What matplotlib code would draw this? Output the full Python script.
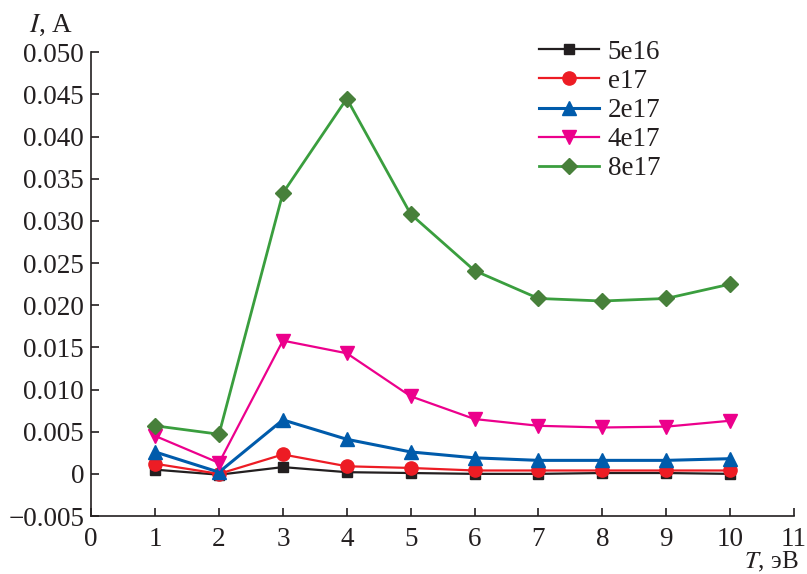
import matplotlib
matplotlib.use("Agg")
import matplotlib.pyplot as plt
from matplotlib.ticker import FuncFormatter

plt.rcParams['font.family'] = ['Liberation Serif', 'DejaVu Serif']
plt.rcParams['mathtext.fontset'] = 'stix'

# Data
T = [1, 2, 3, 4, 5, 6, 7, 8, 9, 10]
labels = ["5e16", "e17", "2e17", "4e17", "8e17"]
i_5e16 = [0.0005, -0.0001, 0.0008, 0.0002, 0.0001, 0.0000, 0.0000, 0.0001, 0.0001, 0.0000]
i_e17 = [0.0012, 0.0000, 0.0023, 0.0009, 0.0007, 0.0004, 0.0004, 0.0004, 0.0004, 0.0004]
i_2e17 = [0.0026, 0.0002, 0.0064, 0.0041, 0.0026, 0.0019, 0.0016, 0.0016, 0.0016, 0.0018]
i_4e17 = [0.0045, 0.0013, 0.0158, 0.0143, 0.0092, 0.0065, 0.0057, 0.0055, 0.0056, 0.0063]
i_8e17 = [0.0057, 0.0047, 0.0333, 0.0445, 0.0308, 0.0241, 0.0208, 0.0205, 0.0208, 0.0225]
series = [i_5e16, i_e17, i_2e17, i_4e17, i_8e17]

# Styles
line_colors = ['#231f20', '#ed1c24', '#005bab', '#ec008c', '#3a9e3e']
face_colors = ['#231f20', '#ed1c24', '#005bab', '#ec008c', '#47803a']
markers = ['s', 'o', '^', 'v', 'D']
msizes = [7.5, 9.5, 9.5, 9.5, 8]
lwidths = [1.6, 1.6, 2.2, 1.6, 2.0]
FS = 19.5

fig = plt.figure(figsize=(8.07, 5.74), dpi=100)
ax = fig.add_axes([0.113, 0.101, 0.871, 0.808])

for ys, lab, lc, fc, m, ms, lw in zip(series, labels, line_colors, face_colors,
                                      markers, msizes, lwidths):
    ax.plot(T, ys, color=lc, lw=lw, marker=m, markersize=ms,
            markerfacecolor=fc, markeredgecolor=fc, label=lab, clip_on=False)

ax.set_xlim(0, 11)
ax.set_ylim(-0.005, 0.050)
ax.set_xticks(range(0, 12))
ax.set_yticks([i * 0.005 for i in range(-1, 11)])


def yfmt(v, pos):
    if abs(v) < 1e-9:
        return "0"
    s = f"{abs(v):.3f}"
    return ("\u2212" + s) if v < 0 else s


ax.yaxis.set_major_formatter(FuncFormatter(yfmt))

for side in ['top', 'right']:
    ax.spines[side].set_visible(False)
for side in ['left', 'bottom']:
    ax.spines[side].set_linewidth(1.2)
    ax.spines[side].set_color('#231f20')

ax.tick_params(direction='in', length=6, width=1.2, color='#231f20',
               labelsize=FS, labelcolor='#231f20')
ax.tick_params(axis='y', pad=5)
ax.tick_params(axis='x', pad=8)

ax.text(-0.088, 1.058, "$I$, A", transform=ax.transAxes, fontsize=FS,
        color='#231f20', ha='left', va='center')
ax.text(1.007, -0.099, "$T$, эВ", transform=ax.transAxes, fontsize=18,
        color='#231f20', ha='right', va='center')

leg = ax.legend(loc='upper left', bbox_to_anchor=(0.622, 1.05), frameon=False,
                fontsize=FS, handlelength=2.2, handletextpad=0.33,
                labelspacing=0.15, borderaxespad=0)
for t in leg.get_texts():
    t.set_color('#231f20')

fig.savefig("out.png", dpi=100)
